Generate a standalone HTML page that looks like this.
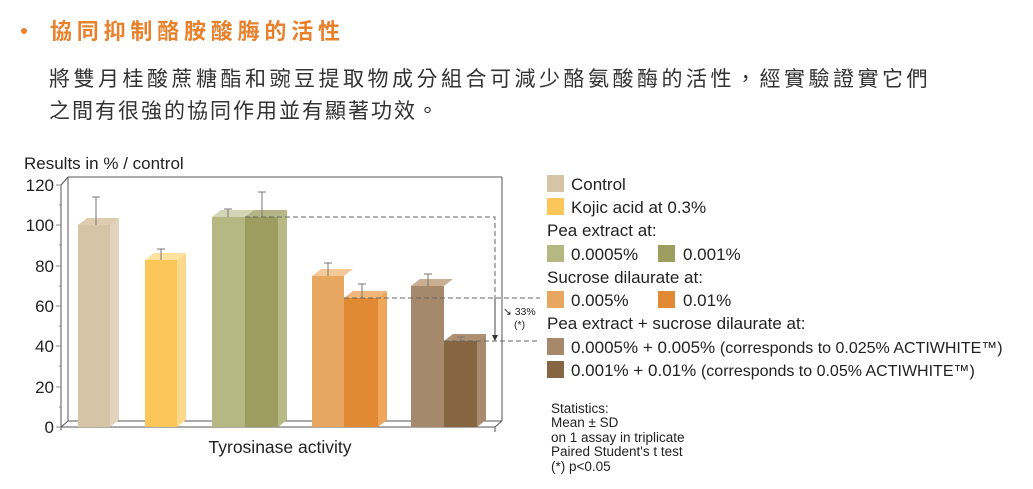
<!DOCTYPE html>
<html><head><meta charset="utf-8"><style>
body{margin:0;background:#fff;width:1033px;height:489px;overflow:hidden}
svg{display:block}
.cjk{font-family:"Liberation Sans","Noto Sans CJK TC",sans-serif}
.t{font-family:"Liberation Sans",sans-serif;fill:#222}
</style></head><body>
<svg width="1033" height="489" viewBox="0 0 1033 489">
<circle cx="24" cy="31" r="3" fill="#e8802c"/>
<text class="cjk" x="50" y="39" font-size="22" font-weight="bold" fill="#e8802c" letter-spacing="4.8">協同抑制酪胺酸脢的活性</text>
<text class="cjk" x="49" y="86" font-size="21" fill="#333" letter-spacing="3.5">將雙月桂酸蔗糖酯和豌豆提取物成分組合可減少酪氨酸酶的活性，經實驗證實它們</text>
<text class="cjk" x="49" y="118" font-size="21" fill="#333" letter-spacing="2">之間有很強的協同作用並有顯著功效。</text>

<text class="t" x="24" y="169" font-size="17">Results in % / control</text>
<g stroke="#555" stroke-width="1" fill="none">
<line x1="61" y1="185" x2="61" y2="430"/>
<line x1="61" y1="185" x2="68" y2="177"/>
<line x1="68" y1="177" x2="502" y2="177"/>
<line x1="68" y1="177" x2="68" y2="421"/>
<line x1="502" y1="177" x2="502" y2="421"/>
<line x1="68" y1="421" x2="502" y2="421"/>
<line x1="61" y1="427" x2="495" y2="427"/>
<line x1="61" y1="427" x2="68" y2="421"/>
<line x1="495" y1="427" x2="502" y2="421"/>
<line x1="495" y1="427" x2="495" y2="432"/>
<g stroke="#888">
<line x1="56" y1="185" x2="61" y2="185"/><line x1="56" y1="225" x2="61" y2="225"/><line x1="56" y1="266" x2="61" y2="266"/><line x1="56" y1="306" x2="61" y2="306"/><line x1="56" y1="346" x2="61" y2="346"/><line x1="56" y1="387" x2="61" y2="387"/><line x1="56" y1="427" x2="61" y2="427"/>
<line x1="59" y1="205" x2="61" y2="205"/><line x1="59" y1="245" x2="61" y2="245"/><line x1="59" y1="286" x2="61" y2="286"/><line x1="59" y1="326" x2="61" y2="326"/><line x1="59" y1="366" x2="61" y2="366"/><line x1="59" y1="407" x2="61" y2="407"/>
</g></g>
<g class="t" font-size="17" text-anchor="end">
<text x="54" y="191">120</text><text x="54" y="231">100</text><text x="54" y="272">80</text><text x="54" y="312">60</text><text x="54" y="352">40</text><text x="54" y="393">20</text><text x="54" y="433">0</text>
</g>
<g>
<polygon points="110,225 119,218 119,420 110,427" fill="#e2d3bc"/><polygon points="78,225 87,218 119,218 110,225" fill="#ddccb0"/><rect x="78" y="225" width="32" height="202" fill="#d6c4a6"/>
<polygon points="177,260 186,253 186,420 177,427" fill="#fcd98a"/><polygon points="145,260 154,253 186,253 177,260" fill="#fde2a0"/><rect x="145" y="260" width="32" height="167" fill="#fcc659"/>
<polygon points="212,217 221,210 254,210 245,217" fill="#d3d6b4"/><rect x="212" y="217" width="33" height="210" fill="#b6b884"/>
<polygon points="278,217 287,210 287,420 278,427" fill="#b7ba85"/><polygon points="245,217 254,210 287,210 278,217" fill="#b4b587"/><rect x="245" y="217" width="33" height="210" fill="#9c9d5f"/>
<polygon points="312,276 321,269 353,269 344,276" fill="#f3c998"/><rect x="312" y="276" width="32" height="151" fill="#e8a760"/>
<polygon points="378,298 387,291 387,420 378,427" fill="#eda65a"/><polygon points="344,298 353,291 387,291 378,298" fill="#efb77a"/><rect x="344" y="298" width="34" height="129" fill="#e28a33"/>
<polygon points="411,286 420,279 453,279 444,286" fill="#c9ae91"/><rect x="411" y="286" width="33" height="141" fill="#a6896a"/>
<polygon points="477,341 486,334 486,420 477,427" fill="#a88b6c"/><polygon points="444,341 453,334 486,334 477,341" fill="#b09072"/><rect x="444" y="341" width="33" height="86" fill="#866542"/>
</g>
<g stroke="#777" stroke-width="1">
<line x1="96" y1="197" x2="96" y2="225"/><line x1="92" y1="197" x2="100" y2="197"/>
<line x1="161" y1="249" x2="161" y2="260"/><line x1="157" y1="249" x2="165" y2="249"/>
<line x1="228" y1="209" x2="228" y2="217"/><line x1="224" y1="209" x2="232" y2="209"/>
<line x1="262" y1="192" x2="262" y2="217"/><line x1="258" y1="192" x2="266" y2="192"/>
<line x1="328" y1="263" x2="328" y2="276"/><line x1="324" y1="263" x2="332" y2="263"/>
<line x1="362" y1="284" x2="362" y2="298"/><line x1="358" y1="284" x2="366" y2="284"/>
<line x1="428" y1="274" x2="428" y2="286"/><line x1="424" y1="274" x2="432" y2="274"/>
<line x1="461" y1="337" x2="461" y2="341"/><line x1="457" y1="337" x2="465" y2="337"/>
</g>
<g stroke="#666" stroke-width="1" stroke-dasharray="5,3" fill="none">
<polyline points="245,217 495,217 495,298"/>
<line x1="344" y1="298" x2="540" y2="298"/>
<line x1="444" y1="341" x2="540" y2="341"/>
</g>
<line x1="495" y1="298" x2="495" y2="336" stroke="#444"/>
<polygon points="492,335 498,335 495,341" fill="#333"/>
<text class="t" x="503" y="315" font-size="10.5">↘ 33%</text>
<text class="t" x="514" y="328" font-size="10.5">(*)</text>
<text class="t" x="280" y="453" font-size="17.5" text-anchor="middle">Tyrosinase activity</text>
<g>
<rect x="547" y="175" width="17" height="17" fill="#d6c4a6"/>
<rect x="547" y="198" width="17" height="17" fill="#fcc659"/>
<rect x="547" y="245" width="17" height="17" fill="#b6b884"/>
<rect x="658" y="245" width="17" height="17" fill="#9c9d5f"/>
<rect x="547" y="291" width="17" height="17" fill="#e8a760"/>
<rect x="658" y="291" width="17" height="17" fill="#e28a33"/>
<rect x="547" y="338" width="17" height="17" fill="#a6896a"/>
<rect x="547" y="361" width="17" height="17" fill="#866542"/>
</g>
<g class="t" font-size="17">
<text x="571" y="190">Control</text>
<text x="571" y="213">Kojic acid at 0.3%</text>
<text x="547" y="236">Pea extract at:</text>
<text x="571" y="260">0.0005%</text><text x="683" y="260">0.001%</text>
<text x="547" y="283">Sucrose dilaurate at:</text>
<text x="571" y="306">0.005%</text><text x="683" y="306">0.01%</text>
<text x="547" y="329">Pea extract + sucrose dilaurate at:</text>
<text x="571" y="353">0.0005% + 0.005% <tspan font-size="16">(corresponds to 0.025% ACTIWHITE™)</tspan></text>
<text x="571" y="376">0.001% + 0.01% <tspan font-size="16">(corresponds to 0.05% ACTIWHITE™)</tspan></text>
</g>
<g class="t" font-size="13.5">
<text x="551" y="413">Statistics:</text>
<text x="551" y="427">Mean ± SD</text>
<text x="551" y="442">on 1 assay in triplicate</text>
<text x="551" y="456">Paired Student's t test</text>
<text x="551" y="471">(*) p&lt;0.05</text>
</g>
</svg>
</body></html>
